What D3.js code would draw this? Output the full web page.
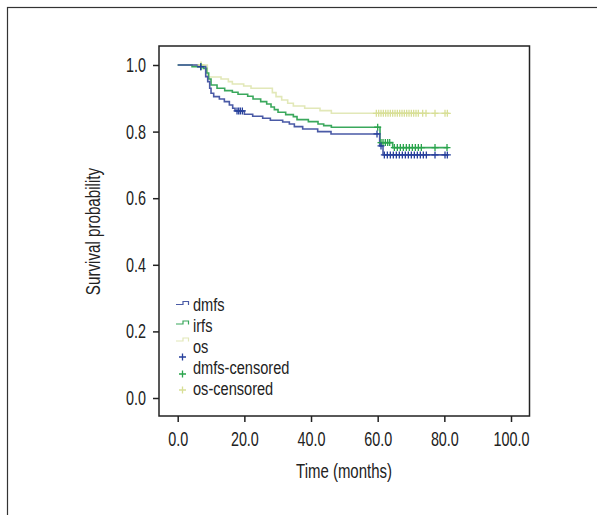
<!DOCTYPE html>
<html>
<head>
<meta charset="utf-8">
<script src="https://cdn.jsdelivr.net/npm/d3@7/dist/d3.min.js"></script>
<style>
  html, body { margin: 0; padding: 0; background: #fff; }
  svg text { font-family: "Liberation Sans", Arial, sans-serif; fill: #222; }
</style>
</head>
<body>
<svg id="chart" width="597" height="515"></svg>
<script>
// ---- data ----
const xTicks = [0, 20, 40, 60, 80, 100];
const yTicks = [0.0, 0.2, 0.4, 0.6, 0.8, 1.0];

// step curves: event times and survival after each event; last entry = end of follow-up
const dmfsTime = [0, 6.0, 8.4, 9.0, 9.6, 10.0, 10.8, 12.5, 14.0, 15.5, 16.5, 17.2, 20.0, 22.5, 25.5, 27.8, 31.5, 33.5, 35.0, 37.5, 42.0, 46.0, 60.6, 61.6, 81.2];
const dmfsSurv = [1.0, 0.995, 0.965, 0.95, 0.93, 0.915, 0.905, 0.898, 0.89, 0.88, 0.87, 0.862, 0.852, 0.846, 0.84, 0.834, 0.829, 0.823, 0.815, 0.808, 0.80, 0.793, 0.757, 0.730, 0.730];

const irfsTime = [0, 4.3, 7.7, 8.7, 9.3, 10.0, 11.8, 14.1, 16.4, 18.1, 21.0, 22.6, 24.9, 26.7, 28.0, 29.0, 30.1, 32.4, 34.7, 35.8, 39.2, 42.1, 43.8, 46.1, 60.7, 64.5, 81.2];
const irfsSurv = [1.0, 0.995, 0.99, 0.976, 0.958, 0.94, 0.93, 0.923, 0.918, 0.912, 0.906, 0.898, 0.89, 0.883, 0.874, 0.866, 0.858, 0.851, 0.845, 0.836, 0.83, 0.823, 0.818, 0.813, 0.767, 0.752, 0.752];

const osTime = [0, 8.9, 13.0, 15.2, 16.4, 19.8, 22.0, 28.4, 29.5, 31.2, 33.0, 34.7, 38.1, 42.7, 46.1, 81.5];
const osSurv = [1.0, 0.964, 0.958, 0.95, 0.943, 0.937, 0.93, 0.917, 0.905, 0.895, 0.885, 0.877, 0.87, 0.863, 0.855, 0.855];

// censored observation times
const dmfsCens = [6.9, 17.8, 18.3, 18.8, 19.4, 59.8, 61.0, 62.0, 62.9, 63.8, 64.7, 65.6, 66.5, 67.4, 68.3, 69.2, 70.1, 71.0, 71.9, 72.8, 73.7, 74.6, 77.2, 80.2, 80.9];
const irfsCens = [7.0, 60.0, 61.0, 61.6, 62.3, 63.0, 63.6, 65.0, 65.9, 66.8, 67.7, 68.6, 69.5, 70.4, 71.3, 72.2, 73.1, 77.2, 80.8];
const osCens = [7.0, 59.6, 60.3, 61.0, 61.7, 62.4, 63.1, 63.8, 64.5, 65.2, 65.9, 66.6, 67.3, 68.0, 68.7, 69.4, 70.1, 70.8, 71.5, 72.2, 73.5, 74.5, 77.2, 80.2, 80.9];

const legendLabels = ["dmfs", "irfs", "os", "dmfs-censored", "os-censored"];

// ---- drawing ----
const svg = d3.select("#chart");
const colors = { dmfs: "#4a5aa6", irfs: "#3aa85c", os: "#e2e8b8" };
const censColors = { dmfs: "#27409c", irfs: "#2aa44c", os: "#d8df96" };
const FS = 20.5;

// condensed look: squeeze glyphs horizontally
function condense(sel, f) {
  sel.each(function () {
    const w = this.getComputedTextLength();
    d3.select(this).attr("textLength", w * f).attr("lengthAdjust", "spacingAndGlyphs");
  });
}

// outer figure border
svg.append("rect").attr("x", 7.5).attr("y", 7.5).attr("width", 620).attr("height", 540)
  .attr("fill", "none").attr("stroke", "#333").attr("stroke-width", 1.2);

const frame = { left: 159, right: 529.5, top: 46, bottom: 416 };
const x = d3.scaleLinear().domain([0, 100]).range([177.7, 511]);
const y = d3.scaleLinear().domain([0, 1]).range([398, 65]);

// frame
svg.append("rect").attr("x", frame.left).attr("y", frame.top)
  .attr("width", frame.right - frame.left).attr("height", frame.bottom - frame.top)
  .attr("fill", "none").attr("stroke", "#222").attr("stroke-width", 1.5);

// axes
const xAxis = d3.axisBottom(x).tickValues(xTicks).tickFormat(d3.format(".1f")).tickSize(6).tickPadding(9);
const gx = svg.append("g").attr("transform", `translate(0,${frame.bottom})`).call(xAxis);
const yAxis = d3.axisLeft(y).tickValues(yTicks).tickFormat(d3.format(".1f")).tickSize(6).tickPadding(7);
const gy = svg.append("g").attr("transform", `translate(${frame.left},0)`).call(yAxis);
[gx, gy].forEach(g => {
  g.select(".domain").remove();
  g.selectAll(".tick line").attr("stroke", "#222").attr("stroke-width", 1.5);
  g.selectAll(".tick text").attr("font-size", FS).attr("fill", "#222")
    .style("font-family", '"Liberation Sans", Arial, sans-serif');
  condense(g.selectAll(".tick text"), 0.70);
});

// axis titles
const tx = svg.append("text").attr("x", 344).attr("y", 478).attr("text-anchor", "middle")
  .attr("font-size", FS).text("Time (months)");
condense(tx, 0.73);
const ty = svg.append("text").attr("transform", "translate(100,231.5) rotate(-90)").attr("text-anchor", "middle")
  .attr("font-size", FS).text("Survival probability");
condense(ty, 0.74);

// curves
const line = d3.line().x(d => x(d[0])).y(d => y(d[1])).curve(d3.curveStepAfter);
const series = [
  { key: "os", t: osTime, s: osSurv, c: osCens },
  { key: "irfs", t: irfsTime, s: irfsSurv, c: irfsCens },
  { key: "dmfs", t: dmfsTime, s: dmfsSurv, c: dmfsCens }
];
function survAt(ser, t) {
  const i = d3.bisectRight(ser.t, t) - 1;
  return ser.s[Math.max(0, i)];
}
series.forEach(ser => {
  svg.append("path").datum(ser.t.map((t, i) => [t, ser.s[i]]))
    .attr("d", line).attr("fill", "none").attr("stroke", colors[ser.key]).attr("stroke-width", 1.6);
});
const plus = (g, cx, cy, col) => {
  g.append("path").attr("d", `M${cx - 3.5},${cy}H${cx + 3.5}M${cx},${cy - 3.5}V${cy + 3.5}`)
    .attr("stroke", col).attr("stroke-width", 1.3).attr("fill", "none");
};
series.forEach(ser => {
  const g = svg.append("g");
  ser.c.forEach(t => plus(g, x(t), y(survAt(ser, t)), censColors[ser.key]));
});

// legend
const lg = svg.append("g");
const symX = 176;
const lineSym = (yy, col) => {
  lg.append("path").attr("d", `M${symX},${yy + 1.5}H${symX + 7}V${yy - 1.5}H${symX + 12.5}V${yy + 2}`)
    .attr("fill", "none").attr("stroke", col).attr("stroke-width", 1.2);
};
lineSym(303, colors.dmfs);
lineSym(322.5, colors.irfs);
lineSym(339.5, colors.os);
plus(lg, 182.5, 357, censColors.dmfs);
plus(lg, 182.5, 374, censColors.irfs);
plus(lg, 182.5, 390, censColors.os);
const baselines = [311, 332, 353, 374, 395];
legendLabels.forEach((lab, i) => {
  const t = lg.append("text").attr("x", 193).attr("y", baselines[i]).attr("font-size", 18).text(lab);
  condense(t, 0.81);
});
</script>
</body>
</html>
